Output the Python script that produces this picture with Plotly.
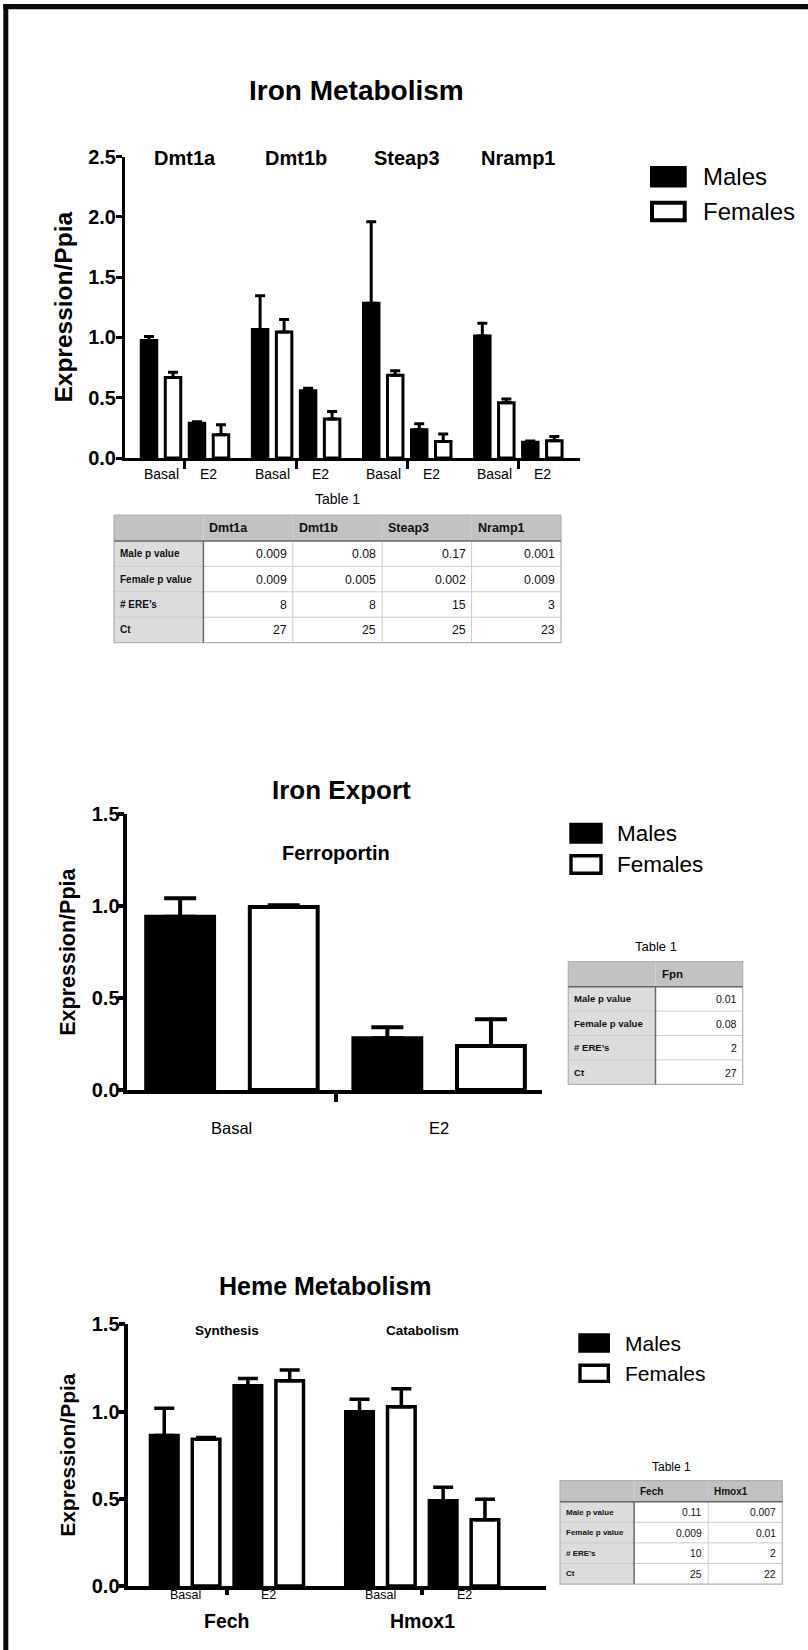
import plotly.graph_objects as go

W, H = 808, 1650
FONT = "Liberation Sans, Arial, Helvetica, sans-serif"

# ---------------- data ----------------
conditions = ["Basal", "E2"]
sexes = ["Males", "Females"]

# Iron metabolism: values ordered gene by gene, Basal then E2
iron_genes = ["Dmt1a", "Dmt1b", "Steap3", "Nramp1"]
iron_male = [0.975, 0.288, 1.066, 0.558, 1.283, 0.234, 1.011, 0.13]
iron_male_err = [0.033, 0.012, 0.28, 0.02, 0.676, 0.05, 0.107, 0.01]
iron_female = [0.668, 0.192, 1.044, 0.324, 0.687, 0.137, 0.459, 0.143]
iron_female_err = [0.044, 0.083, 0.104, 0.061, 0.036, 0.061, 0.03, 0.036]

# Iron export: ferroportin
export_gene = "Ferroportin"
export_male = [0.943, 0.281]
export_male_err = [0.10, 0.06]
export_female = [0.995, 0.239]
export_female_err = [0.01, 0.146]

# Heme metabolism
heme_genes = ["Fech", "Hmox1"]
heme_groups = ["Synthesis", "Catabolism"]
heme_male = [0.862, 1.148, 0.999, 0.489]
heme_male_err = [0.157, 0.042, 0.071, 0.077]
heme_female = [0.841, 1.177, 1.028, 0.38]
heme_female_err = [0.01, 0.061, 0.103, 0.117]

# Summary tables
row_labels = ["Male p value", "Female p value", "# ERE’s", "Ct"]
t1_genes = ["Dmt1a", "Dmt1b", "Steap3", "Nramp1"]
t1_male_p = ["0.009", "0.08", "0.17", "0.001"]
t1_female_p = ["0.009", "0.005", "0.002", "0.009"]
t1_eres = ["8", "8", "15", "3"]
t1_ct = ["27", "25", "25", "23"]

t2_genes = ["Fpn"]
t2_male_p = ["0.01"]
t2_female_p = ["0.08"]
t2_eres = ["2"]
t2_ct = ["27"]

t3_genes = ["Fech", "Hmox1"]
t3_male_p = ["0.11", "0.007"]
t3_female_p = ["0.009", "0.01"]
t3_eres = ["10", "2"]
t3_ct = ["25", "22"]


# ---------------- helpers ----------------
def fx(px):
    return px / W


def fy(py):
    return 1 - py / H


def layout_positions(n_genes, gene_step):
    """Bar slots: male/female pairs for Basal then E2 inside each gene block."""
    male, female, cond_mid, gene_mid = [], [], [], []
    for g in range(n_genes):
        base = g * gene_step
        for c in range(len(conditions)):
            male.append(base + 2 * c)
            female.append(base + 2 * c + 1)
            cond_mid.append(base + 2 * c + 0.5)
        gene_mid.append(base + 1.5)
    return male, female, cond_mid, gene_mid


fig = go.Figure()
annotations = []
shapes = []


def add_bars(ax, male_x, female_x, m, me, f, fe, width, lw, cap):
    n = len(m)
    fig.add_trace(go.Bar(
        x=male_x, y=m, width=width, name=sexes[0], showlegend=False,
        marker=dict(color="black", line=dict(color="black", width=lw)),
        error_y=dict(type="data", array=me, arrayminus=[0] * n, symmetric=False,
                     color="black", thickness=lw, width=cap),
        xaxis="x" + ax, yaxis="y" + ax))
    fig.add_trace(go.Bar(
        x=female_x, y=f, width=width, name=sexes[1], showlegend=False,
        marker=dict(color="white", line=dict(color="black", width=lw)),
        error_y=dict(type="data", array=fe, arrayminus=[0] * n, symmetric=False,
                     color="black", thickness=lw, width=cap),
        xaxis="x" + ax, yaxis="y" + ax))


def axis_pair(xdom, ydom, xrange, yrange, ticks_x, lw, xticklen, standoff,
              title_size, label_shift):
    xa = dict(domain=[fx(xdom[0]), fx(xdom[1])], range=xrange, showline=True,
              linewidth=lw, linecolor="black", ticks="outside", tickvals=ticks_x,
              ticktext=[""] * len(ticks_x), ticklen=xticklen, tickwidth=lw,
              tickcolor="black", showgrid=False, zeroline=False, fixedrange=True,
              automargin=False)
    ya = dict(domain=[fy(ydom[1]), fy(ydom[0])], range=yrange, dtick=0.5,
              tickformat=".1f", showline=True, linewidth=lw, linecolor="black",
              ticks="outside", ticklen=6, tickwidth=lw, tickcolor="black",
              ticklabelstandoff=label_shift,
              tickfont=dict(family=FONT, size=20, color="black", weight="bold"),
              showgrid=False, zeroline=False, fixedrange=True, automargin=False,
              title=dict(text="Expression/Ppia", standoff=standoff,
                         font=dict(family=FONT, size=title_size, color="black",
                                   weight="bold")))
    return xa, ya


def text(x, y, s, size, bold=False, xref="paper", xanchor="center", color="black"):
    annotations.append(dict(
        x=x, y=fy(y), xref=xref, yref="paper", text=s, showarrow=False,
        xanchor=xanchor, yanchor="middle", borderpad=0,
        font=dict(family=FONT, size=size, color=color,
                  weight="bold" if bold else "normal")))


def rect(x0, x1, y0, y1, fill, line_color=None, lw=0):
    shapes.append(dict(type="rect", xref="paper", yref="paper",
                       x0=fx(x0), x1=fx(x1), y0=fy(y1), y1=fy(y0), fillcolor=fill,
                       line=dict(color=line_color, width=lw) if lw else dict(width=0),
                       layer="below"))


def hline(x0, x1, y, color, lw):
    shapes.append(dict(type="line", xref="paper", yref="paper", x0=fx(x0), x1=fx(x1),
                       y0=fy(y), y1=fy(y), line=dict(color=color, width=lw)))


def vline(x, y0, y1, color, lw):
    shapes.append(dict(type="line", xref="paper", yref="paper", x0=fx(x), x1=fx(x),
                       y0=fy(y0), y1=fy(y1), line=dict(color=color, width=lw)))


def legend_block(x0, x1, ym, yf, box_h, lw, tx, size):
    rect(x0, x1, ym - box_h / 2, ym + box_h / 2, "black")
    shapes.append(dict(type="rect", xref="paper", yref="paper",
                       x0=fx(x0 + lw / 2), x1=fx(x1 - lw / 2),
                       y0=fy(yf + box_h / 2 - lw / 2), y1=fy(yf - box_h / 2 + lw / 2),
                       fillcolor="white", line=dict(color="black", width=lw)))
    text(fx(tx), ym, sexes[0], size, xanchor="left")
    text(fx(tx), yf, sexes[1], size, xanchor="left")


def summary_table(x0, x1, y0, header_h, row_h, genes, rows, fs_head, fs_lab, fs_val,
                  caption_y, caption_size, pad=5):
    ncol = len(genes) + 1
    nrow = len(row_labels)
    cw = (x1 - x0) / ncol
    hb = y0 + header_h
    tb = hb + nrow * row_h
    # cell backgrounds
    rect(x0, x1, y0, hb, "#c2c2c2")
    rect(x0, x0 + cw, hb, tb, "#dcdcdc")
    rect(x0 + cw, x1, hb, tb, "white")
    # grid
    for i in range(1, nrow):
        hline(x0, x1, hb + i * row_h, "#cbcbcb", 1)
    for j in range(2, ncol):
        vline(x0 + j * cw, y0, tb, "#cbcbcb", 1)
    vline(x0 + cw, y0, hb, "#d2d2d2", 1)
    shapes.append(dict(type="rect", xref="paper", yref="paper", x0=fx(x0), x1=fx(x1),
                       y0=fy(tb), y1=fy(y0), line=dict(color="#b0b0b0", width=1.2)))
    hline(x0, x1, hb, "#666666", 1.5)
    vline(x0 + cw, hb, tb, "#666666", 1.5)
    # header and body text
    for j, g in enumerate(genes):
        text(fx(x0 + (j + 1) * cw + pad), y0 + header_h / 2, g, fs_head, bold=True,
             xanchor="left", color="#111111")
    for i, lab in enumerate(row_labels):
        yc = hb + (i + 0.5) * row_h
        text(fx(x0 + pad), yc, lab, fs_lab, bold=True, xanchor="left", color="#111111")
        for j in range(len(genes)):
            text(fx(x0 + (j + 2) * cw - pad), yc + 0.5, rows[i][j], fs_val,
                 xanchor="right", color="#111111")
    text(fx((x0 + x1) / 2), caption_y, "Table 1", caption_size)


# ---------------- panel 1: iron metabolism ----------------
step1 = 4.63
m1, f1, c1, g1 = layout_positions(len(iron_genes), step1)
add_bars("", m1, f1, iron_male, iron_male_err, iron_female, iron_female_err,
         width=0.645, lw=3, cap=5)
xa1, ya1 = axis_pair((125, 580), (156.5, 458), [-1.0, 17.96], [0, 2.5],
                     g1, 3, 8, 9, 24.5, -4)
text(fx(356), 90.5, "Iron Metabolism", 28, bold=True)
for g, xm in zip(iron_genes, g1):
    text(xm, 158, g, 20, bold=True, xref="x")
for i, xm in enumerate(c1):
    text(xm, 474, conditions[i % 2], 14, xref="x")
legend_block(650, 686.7, 176.7, 211.5, 21.5, 4, 702, 24)
summary_table(114, 561, 515, 26, 25.4, t1_genes,
              [t1_male_p, t1_female_p, t1_eres, t1_ct],
              12.5, 10, 12.3, 498.6, 14)

# ---------------- panel 2: iron export ----------------
m2, f2, c2, g2 = layout_positions(1, 4)
add_bars("2", m2, f2, export_male, export_male_err, export_female, export_female_err,
         width=0.655, lw=4, cap=16)
xa2, ya2 = axis_pair((127.3, 541.7), (814.3, 1090), [-0.51, 3.49], [0, 1.5],
                     g2, 3.5, 8, 11, 21.5, -6)
text(fx(341), 790, "Iron Export", 26, bold=True)
text(g2[0], 853.3, export_gene, 20, bold=True, xref="x2")
for i, xm in enumerate(c2):
    text(xm, 1128.3, conditions[i % 2], 16.5, xref="x2")
legend_block(569.3, 602.7, 833.3, 864.5, 21, 3.4, 616, 22.5)
summary_table(568.3, 742.7, 961.7, 25, 24.4, t2_genes,
              [t2_male_p, t2_female_p, t2_eres, t2_ct],
              11.5, 9.6, 10.5, 946.7, 13)

# ---------------- panel 3: heme metabolism ----------------
step3 = 4.67
m3, f3, c3, g3 = layout_positions(len(heme_genes), step3)
add_bars("3", m3, f3, heme_male, heme_male_err, heme_female, heme_female_err,
         width=0.66, lw=3.5, cap=10)
xa3, ya3 = axis_pair((128.3, 546), (1324.3, 1586), [-0.86, 9.13], [0, 1.5],
                     g3, 3.5, 5, 11, 21, -5)
text(fx(325), 1286, "Heme Metabolism", 25, bold=True)
for name, grp, xm in zip(heme_genes, heme_groups, g3):
    text(xm, 1330, grp, 13.5, bold=True, xref="x3")
    text(xm, 1620.7, name, 19.5, bold=True, xref="x3")
for i, xm in enumerate(c3):
    text(xm, 1595, conditions[i % 2], 12.5, xref="x3")
legend_block(578.3, 610, 1343, 1373.3, 19.5, 3.4, 623.5, 21)
summary_table(560, 782.3, 1480.7, 21, 20.6, t3_genes,
              [t3_male_p, t3_female_p, t3_eres, t3_ct],
              10, 8, 10.3, 1466.7, 12)

# ---------------- page frame ----------------
shapes.append(dict(type="rect", xref="paper", yref="paper", x0=fx(3.3), x1=1,
                   y0=fy(9.3), y1=fy(4), fillcolor="#0a0a0a", line=dict(width=0)))
shapes.append(dict(type="rect", xref="paper", yref="paper", x0=fx(3.3), x1=fx(8.3),
                   y0=0, y1=fy(4), fillcolor="#0a0a0a", line=dict(width=0)))

fig.update_layout(
    width=W, height=H, margin=dict(l=0, r=0, t=0, b=0, autoexpand=False),
    paper_bgcolor="white", plot_bgcolor="rgba(0,0,0,0)", barmode="overlay",
    showlegend=False, font=dict(family=FONT, color="black"),
    xaxis=dict(xa1, anchor="y"), yaxis=dict(ya1, anchor="x"),
    xaxis2=dict(xa2, anchor="y2"), yaxis2=dict(ya2, anchor="x2"),
    xaxis3=dict(xa3, anchor="y3"), yaxis3=dict(ya3, anchor="x3"),
    annotations=annotations, shapes=shapes,
)

fig.write_html("out.html")
